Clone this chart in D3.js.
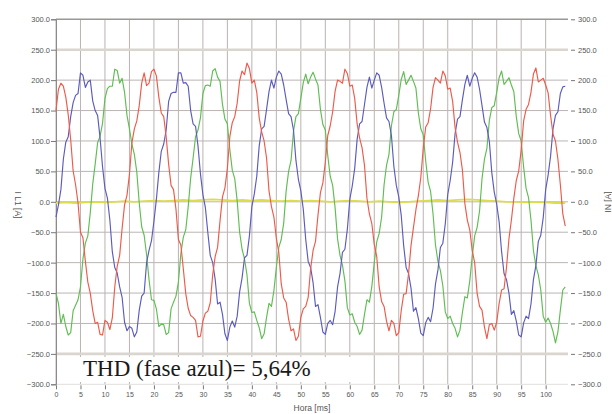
<!DOCTYPE html>
<html>
<head>
<meta charset="utf-8">
<script src="https://cdn.jsdelivr.net/npm/d3@7"></script>
<style>
  html, body { margin: 0; padding: 0; background: #fff; }
  svg { display: block; }
  .tick text { font-family: "Liberation Sans", Arial, sans-serif; fill: #555; }
</style>
</head>
<body>
<svg id="chart" width="612" height="414"></svg>
<script>
// Phase currents sampled every 0.5 ms, neutral current every 2 ms
const sampleStepMs = 0.5;
const neutralStepMs = 2;

const phaseRed = [
  150,185, 195,190, 172,143, 102,51, 28,-2, -50,-59, -98,-132, -150,-179, -200,-198, -218,-219,
  -195,-198, -210,-191, -140,-106, -88,-44, -5,11, 45,97, 120,133, 158,195, 212,191, 195,214,
  218,207, 172,146, 140,107, 62,27, 20,-12, -62,-71, -110,-151, -175,-187, -190,-195, -222,-221,
  -196,-183, -180,-166, -120,-90, -75,-31, 8,23, 55,107, 130,140, 162,199, 215,209, 228,219,
  195,200, 180,138, 115,100, 72,18, -8,-25, -60,-83, -135,-158, -165,-193, -212,-209, -228,-221,
  -190,-176, -172,-157, -110,-80, -65,-22, 15,31, 65,109, 125,148, 182,200, 198,195, 218,211,
  190,192, 170,128, 105,89, 60,6, -20,-36, -70,-90, -140,-164, -172,-196, -212,-195, -200,-220,
  -215,-179, -152,-151, -118,-72, -42,-13, 10,40, 88,123, 130,153, 188,204, 200,195, 215,207,
  185,187, 165,122, 98,81, 52,-3, -30,-46, -80,-100, -150,-172, -178,-206, -225,-202, -200,-211,
  -198,-167, -145,-143, -108,-61, -30,6, 35,51, 85,133, 152,160, 180,210, 220,197, 200,203,
  192,179, 142,111, 100,70, 28,-20, -40
];

const phaseBlue = [
  -25,-5, 20,70, 98,107, 140,163, 175,178, 212,208, 188,197, 200,166, 150,142, 105,58,
  22,6, -30,-82, -108,-117, -140,-157, -198,-212, -205,-208, -222,-214, -178,-155, -150,-100, -80,-64,
  -32,4, 48,83, 95,118, 165,178, 180,180, 212,212, 195,196, 190,150, 128,124, 92,46,
  12,-9, -50,-88, -100,-127, -168,-165, -185,-217, -228,-206, -196,-206, -188,-148, -125,-92, -88,-56,
  -8,13, 42,92, 120,124, 152,181, 200,187, 205,215, 210,192, 168,145, 140,118, 68,37,
  18,-12, -62,-98, -108,-133, -172,-169, -190,-214, -218,-200, -195,-202, -180,-140, -118,-83, -78,-45,
  4,26, 55,103, 128,132, 160,188, 205,187, 200,212, 208,188, 162,138, 132,109, 58,27,
  8,-22, -72,-108, -118,-142, -180,-174, -192,-216, -220,-199, -190,-197, -175,-135, -112,-75, -68,-36,
  12,35, 65,112, 136,140, 168,193, 208,190, 203,212, 205,185, 158,131, 122,99, 48,16,
  -4,-33, -82,-118, -128,-150, -185,-179, -196,-219, -222,-199, -188,-192, -168,-128, -105,-65, -55,-26,
  20,44, 75,120, 142,148, 178,189, 190
];

const phaseGreen = [
  -150,-167, -200,-185, -205,-219, -215,-179, -170,-161, -140,-94, -68,-56, -18,29, 62,97, 108,129,
  170,186, 190,190, 218,216, 195,203, 180,142, 120,95, 78,49, -2,-41, -55,-87, -128,-161,
  -162,-176, -205,-201, -202,-218, -215,-176, -165,-155, -132,-85, -58,-46, -8,39, 72,107, 118,138,
  178,191, 192,190, 215,219, 205,198, 160,136, 128,86, 52,38, 2,-50, -78,-94, -120,-167,
  -182,-181, -195,-207, -225,-217, -190,-167, -172,-146, -108,-75, -62,-35, 18,50, 68,116, 140,145,
  170,196, 210,194, 205,213, 202,192, 152,127, 118,76, 42,27, -10,-61, -88,-104, -130,-174,
  -186,-184, -198,-205, -218,-211, -185,-161, -165,-139, -100,-66, -52,-25, 28,60, 78,125, 148,152,
  175,201, 214,193, 200,208, 198,187, 146,120, 110,67, 32,17, -20,-71, -98,-113, -138,-181,
  -192,-188, -200,-208, -222,-211, -182,-156, -158,-130, -90,-56, -42,-15, 38,70, 88,134, 155,158,
  180,204, 215,193, 198,204, 192,181, 140,112, 100,57, 22,7, -30,-80, -105,-120, -145,-188,
  -198,-191, -200,-213, -232,-214, -178,-145, -140
];

const neutral = [
  -2,-1,-2,-1,0,-1,0,1,0,1,
  2,1,2,3,2,3,4,3,2,3,
  2,3,2,1,2,1,2,1,0,1,
  2,1,0,1,0,-1,0,1,2,3,
  2,3,4,3,2,1,0,0,-1,0,
  -1,-2,-2
];

const yTicks = [300,250,200,150,100,50,0,-50,-100,-150,-200,-250,-300];
const xTicks = [0,5,10,15,20,25,30,35,40,45,50,55,60,65,70,75,80,85,90,95,100];

const xLabel = "Hora [ms]";
const yLabelLeft = "I L1 [A]";
const yLabelRight = "IN [A]";
const thdNote = "THD (fase azul)= 5,64%";

const svg = d3.select("#chart");

const x = d3.scaleLinear().domain([0, 104.56]).range([56, 568]);
const y = d3.scaleLinear().domain([-300, 300]).range([384.3, 19.3]);

// grid
const grid = svg.append("g");
grid.selectAll("line.v").data(xTicks).join("line")
  .attr("x1", d => x(d)).attr("x2", d => x(d))
  .attr("y1", y(300)).attr("y2", y(-300))
  .attr("stroke", "#bab3b1").attr("stroke-width", 1);

grid.selectAll("line.h").data(yTicks).join("line")
  .attr("x1", x(0)).attr("x2", x(104.56))
  .attr("y1", d => y(d)).attr("y2", d => y(d))
  .attr("stroke", d => Math.abs(d) === 250 ? "#dad6cf" : (d === 300 ? "#9c9696" : (d === -300 ? "#e2dede" : "#bab5b3")))
  .attr("stroke-width", d => Math.abs(d) === 250 ? 2.6 : (d === 300 ? 1.5 : 1));

// axes
const axL = d3.axisLeft(y).tickValues(yTicks).tickFormat(d3.format(".1f")).tickSize(5).tickPadding(1);
const gL = svg.append("g").attr("transform", `translate(${x(0)},0)`).call(axL);
gL.select(".domain").attr("stroke", "#8f8a8a");
gL.selectAll(".tick line").attr("stroke", "#777");
gL.selectAll(".tick text").attr("font-size", 7.5);

const axR = d3.axisRight(y).tickValues(yTicks).tickFormat(d3.format(".1f")).tickSize(4).tickPadding(3);
const gR = svg.append("g").attr("transform", "translate(571,0)").call(axR);
gR.select(".domain").remove();
gR.selectAll(".tick line").attr("stroke", "#777");
gR.selectAll(".tick text").attr("font-size", 7.5);

const axB = d3.axisBottom(x).tickValues(xTicks).tickFormat(d3.format("d")).tickSize(4).tickPadding(3);
const gB = svg.append("g").attr("transform", `translate(0,${y(-300) + 1})`).call(axB);
gB.select(".domain").remove();
gB.selectAll(".tick line").attr("stroke", "#777");
gB.selectAll(".tick text").attr("font-size", 7);

// traces
const line = d3.line().x(d => x(d.t)).y(d => y(d.v));
const toPts = (arr, step) => arr.map((v, i) => ({ t: i * step, v }));

svg.append("path").datum(toPts(neutral, neutralStepMs)).attr("d", line)
  .attr("fill", "none").attr("stroke", "#dcdc4c").attr("stroke-width", 1.8);

const traces = [
  { data: phaseGreen, color: "#5fbd52" },
  { data: phaseBlue, color: "#5b5bbf" },
  { data: phaseRed, color: "#ee5a4a" }
];
traces.forEach(s => {
  svg.append("path").datum(toPts(s.data, sampleStepMs)).attr("d", line)
    .attr("fill", "none").attr("stroke", s.color).attr("stroke-width", 1.15)
    .attr("stroke-linejoin", "round");
});

// axis titles
svg.append("text").text(xLabel)
  .attr("x", 312).attr("y", 411).attr("text-anchor", "middle")
  .attr("font-family", "Liberation Sans, Arial, sans-serif").attr("font-size", 8.5).attr("fill", "#555");

svg.append("text").text(yLabelLeft)
  .attr("transform", "translate(15,205) rotate(90)").attr("text-anchor", "middle")
  .attr("font-family", "Liberation Sans, Arial, sans-serif").attr("font-size", 8.5).attr("fill", "#555");

svg.append("text").text(yLabelRight)
  .attr("transform", "translate(611,202) rotate(-90)").attr("text-anchor", "middle")
  .attr("font-family", "Liberation Sans, Arial, sans-serif").attr("font-size", 8.5).attr("fill", "#555");

// THD annotation
svg.append("rect").attr("x", 64).attr("y", 357).attr("width", 296).attr("height", 25).attr("fill", "#fff");
svg.append("text").text(thdNote)
  .attr("x", 83).attr("y", 376)
  .attr("font-family", "Liberation Serif, Times New Roman, serif").attr("font-size", 23).attr("fill", "#1a1a1a");
</script>
</body>
</html>
